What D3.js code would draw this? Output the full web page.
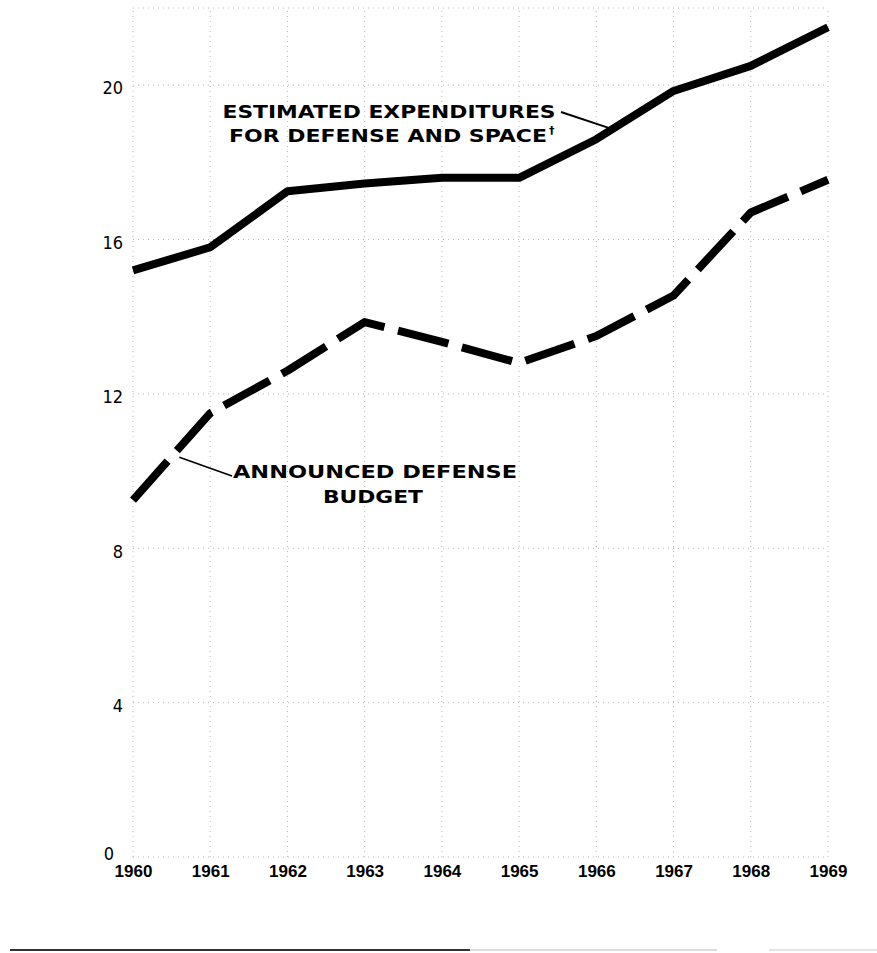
<!DOCTYPE html>
<html>
<head>
<meta charset="utf-8">
<script src="https://cdn.jsdelivr.net/npm/d3@7"></script>
<style>
  body { margin: 0; background: #fff; }
</style>
</head>
<body>
<div id="chart"></div>
<script>
const years = [1960, 1961, 1962, 1963, 1964, 1965, 1966, 1967, 1968, 1969];
// billions of dollars
const expenditures = [15.2, 15.8, 17.25, 17.45, 17.6, 17.6, 18.6, 19.85, 20.5, 21.5];
const announced = [9.25, 11.5, 12.6, 13.86, 13.35, 12.8, 13.5, 14.55, 16.7, 17.55];
const yTicks = [0, 4, 8, 12, 16, 20];

const width = 877;
const height = 953;

const svg = d3.select("#chart").append("svg").attr("width", width).attr("height", height);

const x = d3.scaleLinear().domain([1960, 1969]).range([133, 828]);
const y = d3.scaleLinear().domain([0, 22]).range([857, 8]);

// faint dotted grid
const grid = svg.append("g").attr("stroke", "#b8b8b8").attr("stroke-width", 1).attr("stroke-dasharray", "1,4");

grid
  .selectAll(".vgrid")
  .data(years)
  .enter()
  .append("line")
  .attr("x1", (d) => x(d))
  .attr("x2", (d) => x(d))
  .attr("y1", y(0))
  .attr("y2", y(22));

grid
  .selectAll(".hgrid")
  .data(yTicks.concat([22]))
  .enter()
  .append("line")
  .attr("x1", x(1960))
  .attr("x2", x(1969))
  .attr("y1", (d) => y(d))
  .attr("y2", (d) => y(d));

// axes (labels only)
const yAxis = svg
  .append("g")
  .attr("transform", "translate(" + x(1960) + ",3)")
  .call(d3.axisLeft(y).tickValues(yTicks).tickSize(0).tickPadding(10));
yAxis.select(".domain").remove();
yAxis
  .selectAll("text")
  .style("font-family", "'Liberation Sans Narrow', 'DejaVu Sans Condensed', sans-serif")
  .style("font-size", "18px")
  .attr("fill", "#000");
// the zero sits a little higher and further left, clear of 1960
yAxis
  .selectAll(".tick")
  .filter((d) => d === 0)
  .select("text")
  .attr("x", -19)
  .attr("dy", "-0.05em");

const xAxis = svg
  .append("g")
  .attr("transform", "translate(0," + y(0) + ")")
  .call(d3.axisBottom(x).tickValues(years).tickFormat(d3.format("d")).tickSize(0).tickPadding(8));
xAxis.select(".domain").remove();
xAxis
  .selectAll("text")
  .style("font-family", "'Liberation Sans', Arial, sans-serif")
  .style("font-weight", "bold")
  .style("font-size", "17px")
  .attr("fill", "#000");

// lines
const line = d3
  .line()
  .x((d, i) => x(years[i]))
  .y((d) => y(d));

svg
  .append("path")
  .datum(expenditures)
  .attr("d", line)
  .attr("fill", "none")
  .attr("stroke", "#000")
  .attr("stroke-width", 8)
  .attr("stroke-linejoin", "round");

svg
  .append("path")
  .datum(announced)
  .attr("d", line)
  .attr("fill", "none")
  .attr("stroke", "#000")
  .attr("stroke-width", 8)
  .attr("stroke-dasharray", "52,14")
  .attr("stroke-linejoin", "round");

// annotations
const labelFont = "'DejaVu Sans', Verdana, sans-serif";

function label(txt, cx, by, len) {
  svg
    .append("text")
    .attr("x", cx)
    .attr("y", by)
    .attr("text-anchor", "middle")
    .attr("textLength", len)
    .attr("lengthAdjust", "spacingAndGlyphs")
    .style("font-family", labelFont)
    .style("font-weight", "bold")
    .style("font-size", "18px")
    .text(txt);
}

label("ESTIMATED EXPENDITURES", 389, 118, 333);
label("FOR DEFENSE AND SPACE", 388, 142, 318);
svg
  .append("text")
  .attr("x", 549)
  .attr("y", 134)
  .style("font-family", labelFont)
  .style("font-weight", "bold")
  .style("font-size", "11px")
  .text("\u2020");

label("ANNOUNCED DEFENSE", 375, 478, 284);
label("BUDGET", 373, 503, 100);

// leader lines
svg
  .append("line")
  .attr("x1", 561)
  .attr("y1", 112)
  .attr("x2", x(1966.15))
  .attr("y2", y(18.9))
  .attr("stroke", "#000")
  .attr("stroke-width", 2);

svg
  .append("line")
  .attr("x1", 232)
  .attr("y1", 476)
  .attr("x2", x(1960.6))
  .attr("y2", y(10.36))
  .attr("stroke", "#000")
  .attr("stroke-width", 1.6);

// rule at the bottom of the page
svg
  .append("line")
  .attr("x1", 10)
  .attr("x2", 470)
  .attr("y1", 950)
  .attr("y2", 950)
  .attr("stroke", "#333")
  .attr("stroke-width", 2);
svg
  .append("line")
  .attr("x1", 470)
  .attr("x2", 717)
  .attr("y1", 950)
  .attr("y2", 950)
  .attr("stroke", "#ddd")
  .attr("stroke-width", 2);
svg
  .append("line")
  .attr("x1", 769)
  .attr("x2", 877)
  .attr("y1", 950)
  .attr("y2", 950)
  .attr("stroke", "#e4e4e4")
  .attr("stroke-width", 2);
</script>
</body>
</html>
